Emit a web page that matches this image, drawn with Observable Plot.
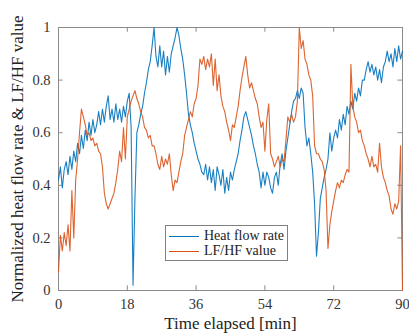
<!DOCTYPE html>
<html>
<head>
<meta charset="utf-8">
<script src="https://cdn.jsdelivr.net/npm/d3@7"></script>
<script src="https://cdn.jsdelivr.net/npm/@observablehq/plot@0.6"></script>
<style>
  html, body { margin: 0; padding: 0; background: white; }
  #wrap { position: relative; width: 409px; height: 333px; font-family: "Liberation Serif", "Times New Roman", serif; }
  #legend { position: absolute; left: 165px; top: 225px; width: 121px; height: 34px; border: 1px solid #808080; background: white; font-size: 14px; color: #222; }
  .row { position: absolute; left: 0; height: 16px; display: flex; align-items: center; white-space: nowrap; }
  .sw { width: 30px; height: 0; margin-left: 3px; margin-right: 5px; }
</style>
</head>
<body>
<div id="wrap"></div>
<script>
const seriesNames = ["Heat flow rate", "LF/HF value"];
const seriesColors = ["#0072BD", "#D95319"];
const xTicks = [0, 18, 36, 54, 72, 90];
const yTicks = [0, 0.2, 0.4, 0.6, 0.8, 1];
const yTickLabels = ["0", "0.2", "0.4", "0.6", "0.8", "1"];
const timeStep = 0.5; // minutes between samples

// Heat flow rate (normalized), one value every 0.5 min from 0 to 90
const heatFlow = [
  0.42,0.47,0.39,0.46,0.49,0.44,0.51,0.46,0.53,0.49,
  0.56,0.52,0.59,0.54,0.61,0.57,0.64,0.59,0.65,0.60,
  0.63,0.68,0.63,0.69,0.64,0.70,0.74,0.65,0.69,0.64,
  0.71,0.65,0.69,0.64,0.70,0.66,0.72,0.75,0.62,0.02,
  0.35,0.60,0.63,0.67,0.70,0.75,0.79,0.84,0.87,0.93,
  1.00,0.89,0.85,0.93,0.85,0.91,0.82,0.89,0.83,0.90,
  0.93,0.96,1.00,0.97,0.92,0.88,0.82,0.75,0.67,0.63,
  0.60,0.56,0.53,0.50,0.48,0.45,0.44,0.48,0.42,0.47,
  0.41,0.46,0.38,0.47,0.44,0.40,0.46,0.37,0.43,0.38,
  0.45,0.42,0.46,0.49,0.52,0.57,0.61,0.66,0.68,0.65,
  0.62,0.59,0.55,0.52,0.48,0.45,0.39,0.45,0.40,0.45,
  0.43,0.39,0.37,0.43,0.45,0.40,0.48,0.52,0.46,0.53,
  0.58,0.63,0.68,0.72,0.73,0.76,0.73,0.77,0.75,0.62,
  0.55,0.58,0.52,0.45,0.33,0.13,0.22,0.35,0.39,0.43,
  0.46,0.50,0.60,0.53,0.58,0.61,0.58,0.65,0.61,0.67,
  0.63,0.70,0.67,0.72,0.69,0.75,0.72,0.77,0.74,0.80,
  0.80,0.84,0.87,0.83,0.86,0.82,0.85,0.80,0.84,0.79,
  0.85,0.87,0.91,0.87,0.90,0.85,0.92,0.87,0.93,0.88,
  0.91
];

// LF/HF value (normalized), one value every 0.5 min from 0 to 90
const lfhf = [
  0.07,0.21,0.15,0.22,0.17,0.25,0.15,0.38,0.20,0.42,
  0.50,0.60,0.69,0.66,0.63,0.59,0.60,0.57,0.58,0.55,
  0.56,0.53,0.52,0.47,0.37,0.33,0.31,0.33,0.35,0.37,
  0.41,0.46,0.53,0.49,0.62,0.50,0.66,0.69,0.72,0.74,
  0.76,0.73,0.71,0.68,0.66,0.62,0.61,0.58,0.59,0.55,
  0.55,0.52,0.48,0.46,0.51,0.47,0.50,0.48,0.52,0.44,
  0.38,0.42,0.41,0.45,0.49,0.52,0.59,0.62,0.65,0.68,
  0.66,0.71,0.73,0.78,0.88,0.86,0.89,0.84,0.88,0.85,
  0.90,0.78,0.88,0.76,0.82,0.74,0.70,0.68,0.64,0.61,
  0.57,0.63,0.62,0.66,0.70,0.76,0.81,0.85,0.89,0.82,
  0.77,0.79,0.76,0.73,0.71,0.66,0.62,0.64,0.53,0.65,
  0.71,0.52,0.50,0.47,0.49,0.51,0.47,0.50,0.49,0.57,
  0.66,0.64,0.67,0.64,0.66,0.72,1.00,0.92,0.95,0.88,
  0.86,0.82,0.80,0.74,0.55,0.52,0.52,0.50,0.49,0.46,
  0.38,0.16,0.25,0.30,0.34,0.38,0.41,0.39,0.42,0.41,
  0.44,0.46,0.45,0.86,0.70,0.66,0.64,0.60,0.61,0.57,
  0.55,0.52,0.50,0.47,0.51,0.47,0.48,0.45,0.56,0.47,
  0.43,0.41,0.38,0.36,0.31,0.29,0.33,0.31,0.34,0.55,
  0.00
];

const heatData = heatFlow.map((v, i) => ({t: i * timeStep, v}));
const lfData = lfhf.map((v, i) => ({t: i * timeStep, v}));

const gray = "#8a8a8a";
const chart = Plot.plot({
  width: 409,
  height: 333,
  marginLeft: 58,
  marginRight: 7,
  marginTop: 27,
  marginBottom: 43,
  style: {fontFamily: "'Liberation Serif', 'Times New Roman', serif", background: "white", color: "#333"},
  x: {domain: [0, 90]},
  y: {domain: [0, 1]},
  marks: [
    Plot.frame({stroke: gray}),
    // inward ticks on all four sides
    Plot.ruleX(xTicks, {x: d => d, y1: 0, y2: 0.018, stroke: gray}),
    Plot.ruleX(xTicks, {x: d => d, y1: 1, y2: 0.982, stroke: gray}),
    Plot.ruleY(yTicks, {y: d => d, x1: 0, x2: 1.2, stroke: gray}),
    Plot.ruleY(yTicks, {y: d => d, x1: 90, x2: 88.8, stroke: gray}),
    Plot.axisX(xTicks, {tickSize: 0, tickPadding: 8, fontSize: 14.5, label: null, fill: "#333"}),
    Plot.axisY(yTicks, {tickSize: 0, tickPadding: 8, fontSize: 14.5, label: null, fill: "#333",
      tickFormat: d => yTickLabels[yTicks.indexOf(d)]}),
    Plot.line(heatData, {x: "t", y: "v", stroke: seriesColors[0], strokeWidth: 1.1, strokeOpacity: 0.9}),
    Plot.line(lfData, {x: "t", y: "v", stroke: seriesColors[1], strokeWidth: 1.1, strokeOpacity: 0.9}),
    Plot.text(["Time elapsed [min]"], {frameAnchor: "bottom", lineAnchor: "middle", dy: 33, fontSize: 17, fill: "#222"}),
    Plot.text(["Normalized heat flow rate & LF/HF value"], {frameAnchor: "left", textAnchor: "middle", lineAnchor: "middle", rotate: -90, dx: -41, fontSize: 17, fill: "#222"})
  ]
});

const wrap = document.getElementById("wrap");
wrap.appendChild(chart);

const legend = document.createElement("div");
legend.id = "legend";
seriesNames.forEach((name, i) => {
  const row = document.createElement("div");
  row.className = "row";
  row.style.top = (2 + i * 15) + "px";
  const sw = document.createElement("div");
  sw.className = "sw";
  sw.style.borderTop = "1px solid " + seriesColors[i];
  const label = document.createElement("span");
  label.textContent = name;
  row.appendChild(sw);
  row.appendChild(label);
  legend.appendChild(row);
});
wrap.appendChild(legend);
</script>
</body>
</html>
